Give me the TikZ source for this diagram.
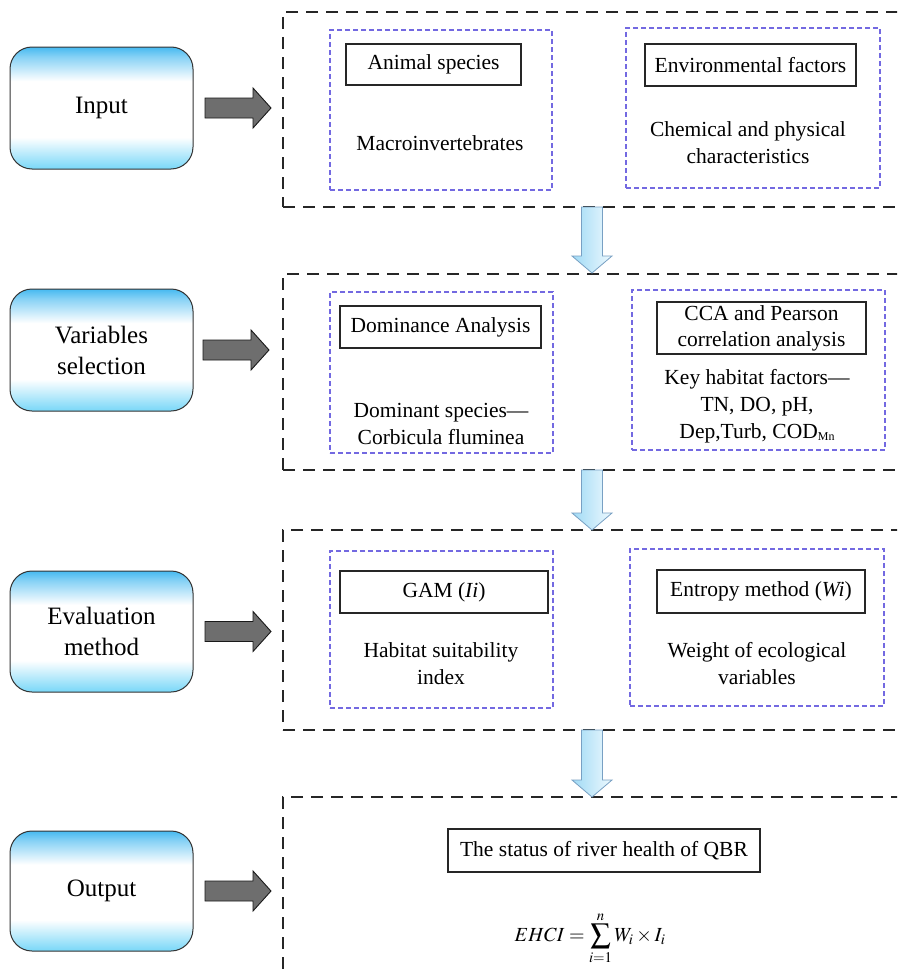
\documentclass[tikz,border=0pt]{standalone}
\usepackage{mathptmx}
\usepackage{fontspec}
\setmainfont{Liberation Serif}
\usetikzlibrary{calc}
\definecolor{skyA}{RGB}{70,185,240}
\definecolor{skyB}{RGB}{120,215,248}
\definecolor{grpc}{RGB}{115,105,225}
\definecolor{arrg}{RGB}{110,110,110}
\definecolor{arrbl}{RGB}{160,218,245}
\definecolor{arrbw}{RGB}{238,249,254}
\definecolor{arrbd}{RGB}{120,160,195}
\pgfdeclareverticalshading{phasesh}{100bp}{color(0bp)=(skyB); color(25bp)=(skyB); color(38bp)=(white); color(61bp)=(white); color(71bp)=(skyA!65!white); color(75bp)=(skyA); color(100bp)=(skyA)}
\tikzset{
  phase/.style={draw=black!80, line width=1pt, rounded corners=22pt, shading=phasesh,
    minimum width=183pt, minimum height=122pt, anchor=north west, align=center,
    inner sep=0pt, outer sep=0pt, font=\fontsize{25}{31}\selectfont},
  outerbox/.style={draw=black!85, line width=2.2pt, dash pattern=on 12pt off 8pt,
    anchor=north west, inner sep=0pt, outer sep=0pt},
  grp/.style={draw=grpc, line width=1.2pt, dash pattern=on 5pt off 3pt,
    anchor=north west, inner sep=0pt, outer sep=0pt},
  titlebox/.style={draw=black!85, line width=1.2pt, anchor=north west, align=center,
    inner sep=0pt, outer sep=0pt, font=\fontsize{21.5}{26}\selectfont},
  bodytext/.style={align=center, inner sep=0pt, font=\fontsize{21.5}{27}\selectfont},
  grayarr/.style={draw=black!90, line width=0.9pt, fill=arrg},
  bluearr/.style={draw=arrbd, line width=0.8pt, left color=arrbl, right color=arrbw},
  pics/rightarrow/.style={code={\path[grayarr] (0,-10) -- (48,-10) -- (48,-20) -- (66,0) -- (48,20) -- (48,10) -- (0,10) -- cycle;}},
  pics/downarrow/.style={code={\path[bluearr] (-10.5,0) -- (10.5,0) -- (10.5,#1-17) -- (20,#1-17) -- (0,#1) -- (-20,#1-17) -- (-10.5,#1-17) -- cycle;}}
}
\begin{document}
\begin{tikzpicture}[x=1pt,y=-1pt]
\useasboundingbox (0,0) rectangle (897,969);
\clip (0,0) rectangle (897,969);
\fill[white] (0,0) rectangle (897,969);

% outer dashed boxes
\node[outerbox, minimum width=700pt, minimum height=195pt] (b1) at (283,12) {};
\node[outerbox, minimum width=700pt, minimum height=196pt] (b2) at (283,274) {};
\node[outerbox, minimum width=700pt, minimum height=200pt] (b3) at (283,530) {};
\node[outerbox, minimum width=700pt, minimum height=260pt] (b4) at (283,797) {};

% phase boxes
\node[phase] (in) at (10,47) {Input};
\node[phase] (vs) at (10,289) {Variables\\selection};
\node[phase, minimum height=121pt] (ev) at (10,571) {Evaluation\\method};
\node[phase, minimum height=120pt] (out) at (10,831) {Output};

% gray arrows
\pic at ($(in.east)+(12,0)$) {rightarrow};
\pic at ($(vs.east)+(10,0)$) {rightarrow};
\pic at ($(ev.east)+(12,0)$) {rightarrow};
\pic at ($(out.east)+(12,0)$) {rightarrow};

% blue arrows
\pic at ($(b1.south west)+(309,0)$) {downarrow=66};
\pic at ($(b2.south west)+(309,0)$) {downarrow=60};
\pic at ($(b3.south west)+(309,0)$) {downarrow=67};

% row 1
\node[grp, minimum width=222pt, minimum height=160pt] (g1a) at (330,30) {};
\node[grp, minimum width=254pt, minimum height=160pt] (g1b) at (626,28) {};
\node[titlebox, minimum width=175pt, minimum height=41pt] (t1a) at (346,44) {Animal species};
\node[titlebox, minimum width=211pt, minimum height=42pt] (t1b) at (645,44) {Environmental factors};
\node[bodytext] (x1a) at (440,143) {Macroinvertebrates};
\node[bodytext] (x1b) at (748,143) {Chemical and physical\\characteristics};

% row 2
\node[grp, minimum width=223pt, minimum height=161pt] (g2a) at (330,292) {};
\node[grp, minimum width=253pt, minimum height=160pt] (g2b) at (632,290) {};
\node[titlebox, minimum width=201pt, minimum height=42pt] (t2a) at (340,306) {Dominance Analysis};
\node[titlebox, minimum width=209pt, minimum height=52pt] (t2b) at (657,302) {CCA and Pearson\\correlation analysis};
\node[bodytext] (x2a) at (441,424) {Dominant species—\\Corbicula fluminea};
\node[bodytext] (x2b) at (757,406) {Key habitat factors—\\TN, DO, pH,\\Dep,Turb, COD\raisebox{-2pt}{\fontsize{12}{12}\selectfont Mn}};

% row 3
\node[grp, minimum width=223pt, minimum height=157pt] (g3a) at (330,551) {};
\node[grp, minimum width=254pt, minimum height=157pt] (g3b) at (630,549) {};
\node[titlebox, minimum width=208pt, minimum height=42pt] (t3a) at (340,571) {GAM (\textit{Ii})};
\node[titlebox, minimum width=208pt, minimum height=43pt] (t3b) at (657,570) {Entropy method (\textit{Wi})};
\node[bodytext] (x3a) at (441,664) {Habitat suitability\\index};
\node[bodytext] (x3b) at (757,664) {Weight of ecological\\variables};

% row 4
\node[titlebox, minimum width=312pt, minimum height=43pt] (t4) at (448,829) {The status of river health of QBR};
\node[bodytext, font=\fontsize{20}{24}\selectfont] (eq) at (590,938) {$\displaystyle EHCI=\sum_{i=1}^{n}W_i\times I_i$};
\end{tikzpicture}
\end{document}
